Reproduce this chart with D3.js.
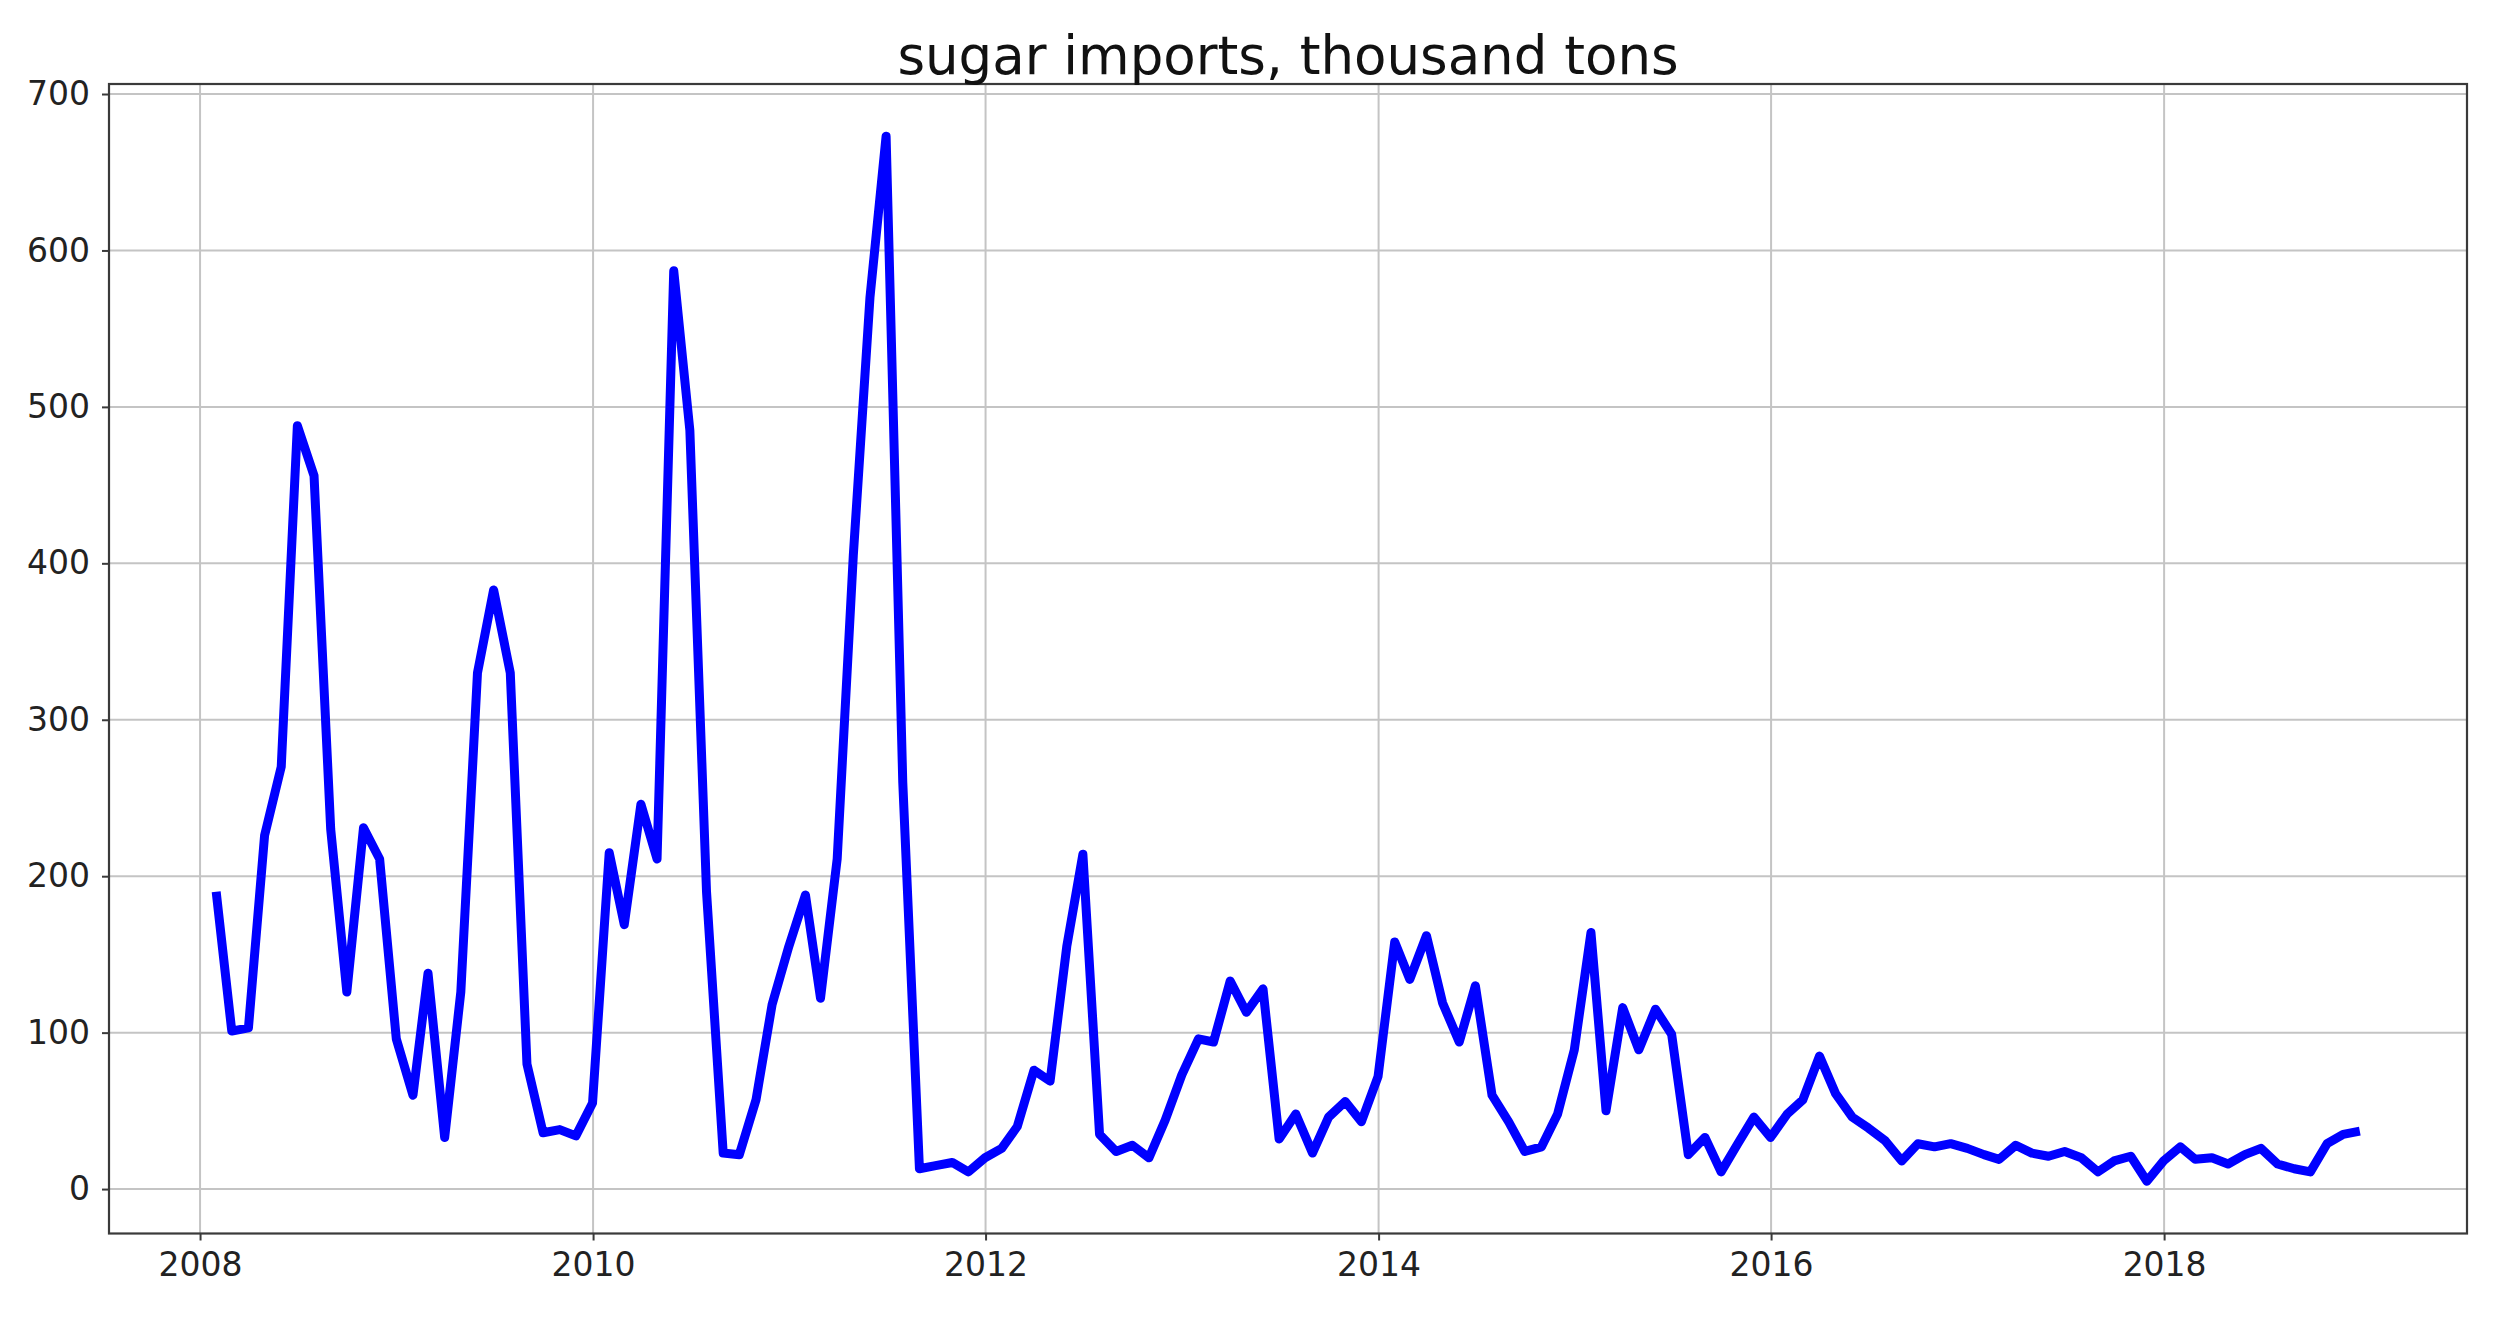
<!DOCTYPE html>
<html>
<head>
<meta charset="utf-8">
<script src="https://cdn.jsdelivr.net/npm/d3@7"></script>
<style>
  html, body { margin: 0; padding: 0; background: #ffffff; }
  svg { display: block; }
</style>
</head>
<body>
<script>
// ---- data: monthly sugar imports (thousand tons), month-end dates ----
const years = [2008, 2009, 2010, 2011, 2012, 2013, 2014, 2015, 2016, 2017, 2018];
const imports2008 = [190, 101, 103, 226, 270, 488, 456, 230, 126, 231, 211, 96];
const imports2009 = [60, 138, 33, 126, 330, 383, 330, 80, 36, 38, 34, 55];
const imports2010 = [215, 169, 246, 211, 587, 485, 190, 23, 22, 57, 118, 155];
const imports2011 = [188, 122, 211, 405, 570, 673, 260, 13, 15, 17, 11, 20];
const imports2012 = [26, 40, 76, 69, 155, 214, 35, 24, 28, 20, 44, 73];
const imports2013 = [96, 94, 133, 113, 128, 32, 48, 23, 46, 56, 43, 72];
const imports2014 = [158, 134, 162, 119, 94, 130, 60, 43, 24, 27, 48, 89];
const imports2015 = [164, 50, 116, 89, 115, 99, 22, 33, 11, 29, 46, 33];
const imports2016 = [48, 57, 85, 61, 46, 39, 31, 18, 29, 27, 29, 26];
const imports2017 = [22, 19, 28, 23, 21, 24, 20, 11, 18, 21, 5, 18];
const imports2018 = [27, 19, 20, 16, 22, 26, 16, 13, 11, 29, 35, 37];
const importsByYear = [imports2008, imports2009, imports2010, imports2011, imports2012,
  imports2013, imports2014, imports2015, imports2016, imports2017, imports2018];

const yTickValues = [0, 100, 200, 300, 400, 500, 600, 700];
const xTickYears = [2008, 2010, 2012, 2014, 2016, 2018];
const titleText = "sugar imports, thousand tons";

(function () {
  // build the series (last day of each month)
  const series = [];
  years.forEach((yr, yi) => {
    importsByYear[yi].forEach((v, m) => {
      series.push({ date: new Date(Date.UTC(yr, m + 1, 0)), value: v });
    });
  });

  // ---- layout ----
  const W = 2511, H = 1342;
  const pLeft = 109, pRight = 2467, pTop = 84, pBottom = 1233.5;
  const FONT = "'DejaVu Sans', sans-serif";

  const svg = d3.select("body").append("svg")
    .attr("width", W).attr("height", H)
    .attr("viewBox", `0 0 ${W} ${H}`);

  svg.append("rect").attr("width", W).attr("height", H).attr("fill", "#ffffff");

  // scales with 5% margins like matplotlib
  const tExt = d3.extent(series, d => +d.date);
  const tPad = (tExt[1] - tExt[0]) * 0.05;
  const x = d3.scaleUtc()
    .domain([new Date(tExt[0] - tPad), new Date(tExt[1] + tPad)])
    .range([pLeft, pRight]);

  const vExt = d3.extent(series, d => d.value);
  const vPad = (vExt[1] - vExt[0]) * 0.05;
  const y = d3.scaleLinear()
    .domain([vExt[0] - vPad, vExt[1] + vPad])
    .range([pBottom, pTop]);

  const xTickDates = xTickYears.map(yr => new Date(Date.UTC(yr, 0, 1)));

  // grid
  const grid = svg.append("g").attr("class", "grid");
  grid.selectAll("line.v").data(xTickDates).enter().append("line")
    .attr("class", "v")
    .attr("x1", d => x(d)).attr("x2", d => x(d))
    .attr("y1", pTop).attr("y2", pBottom)
    .attr("stroke", "#c4c4c4").attr("stroke-width", 2);
  grid.selectAll("line.h").data(yTickValues).enter().append("line")
    .attr("class", "h")
    .attr("x1", pLeft).attr("x2", pRight)
    .attr("y1", d => y(d)).attr("y2", d => y(d))
    .attr("stroke", "#c4c4c4").attr("stroke-width", 2);

  // data line
  const line = d3.line()
    .x(d => x(d.date))
    .y(d => y(d.value));

  svg.append("path")
    .datum(series)
    .attr("fill", "none")
    .attr("stroke", "#0000ff")
    .attr("stroke-width", 9)
    .attr("stroke-linejoin", "round")
    .attr("stroke-linecap", "butt")
    .attr("d", line);

  // spines
  svg.append("rect")
    .attr("x", pLeft).attr("y", pTop)
    .attr("width", pRight - pLeft).attr("height", pBottom - pTop)
    .attr("fill", "none").attr("stroke", "#3a3a3a").attr("stroke-width", 2.2);

  // axes
  const xAxis = d3.axisBottom(x)
    .tickValues(xTickDates)
    .tickFormat(d3.utcFormat("%Y"))
    .tickSize(7).tickPadding(12);
  const gx = svg.append("g")
    .attr("transform", `translate(0,${pBottom})`)
    .call(xAxis);

  const yAxis = d3.axisLeft(y)
    .tickValues(yTickValues)
    .tickFormat(d3.format("d"))
    .tickSize(7).tickPadding(12);
  const gy = svg.append("g")
    .attr("transform", `translate(${pLeft},0)`)
    .call(yAxis);

  [gx, gy].forEach(g => {
    g.select(".domain").remove();
    g.selectAll(".tick line").attr("stroke", "#3a3a3a").attr("stroke-width", 2);
    g.selectAll(".tick text")
      .attr("fill", "#222222")
      .style("font-family", FONT)
      .style("font-size", "33px");
  });

  // title
  svg.append("text")
    .attr("x", (pLeft + pRight) / 2)
    .attr("y", 74)
    .attr("text-anchor", "middle")
    .attr("fill", "#111111")
    .style("font-family", FONT)
    .style("font-size", "53px")
    .text(titleText);
})();
</script>
</body>
</html>
